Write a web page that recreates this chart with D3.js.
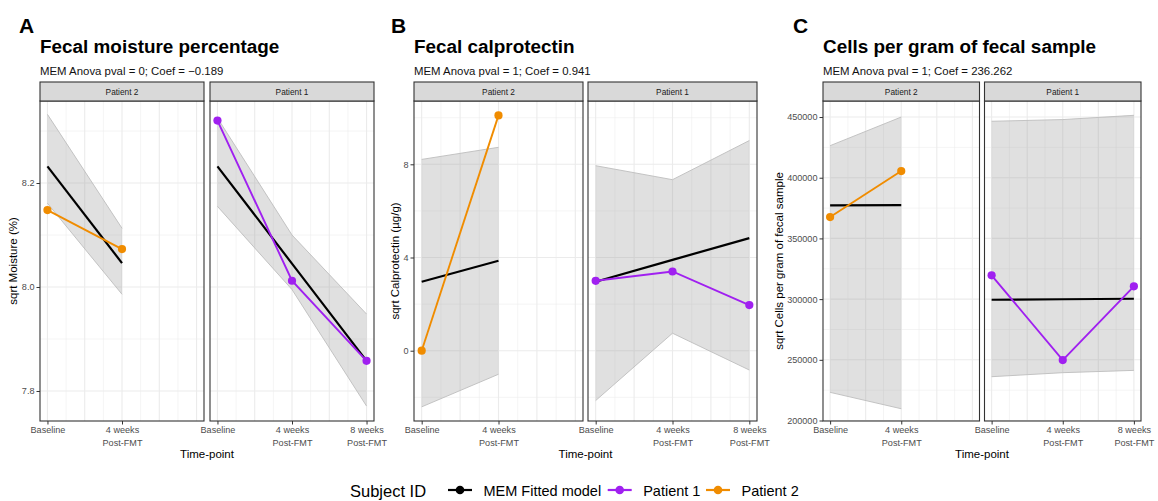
<!DOCTYPE html>
<html>
<head>
<meta charset="utf-8">
<script src="https://cdn.jsdelivr.net/npm/d3@7"></script>
<style>
  body { margin: 0; background: #fff; }
  svg { display: block; font-family: "Liberation Sans", Arial, Helvetica, sans-serif; }
</style>
</head>
<body>
<svg id="fig" width="1158" height="501"></svg>
<script>
// ---- shared categories ----
const timePoints = [1, 2, 3];
const timeLabels = [["Baseline"], ["4 weeks", "Post-FMT"], ["8 weeks", "Post-FMT"]];
const facetOrder = ["Patient 2", "Patient 1"];
const legendLabels = ["MEM Fitted model", "Patient 1", "Patient 2"];

// ---- A: fecal moisture (sqrt %) ----
const moistObsP1 = [8.320, 8.012, 7.858];
const moistObsP2 = [8.148, 8.073];
const moistFitP1 = [8.232, 8.045, 7.858];
const moistFitP2 = [8.232, 8.046];
const moistLoP1  = [8.155, 7.995, 7.771];
const moistHiP1  = [8.325, 8.100, 7.948];
const moistLoP2  = [8.161, 7.986];
const moistHiP2  = [8.332, 8.113];
const moistTicks = [7.8, 8.0, 8.2];
const moistMinor = [7.9, 8.1, 8.3];

// ---- B: fecal calprotectin (sqrt µg/g) ----
const calpObsP1 = [3.00, 3.40, 1.96];
const calpObsP2 = [0.00, 10.10];
const calpFitP1 = [2.96, 3.90, 4.83];
const calpFitP2 = [2.96, 3.86];
const calpLoP1  = [-2.14, 0.75, -0.83];
const calpHiP1  = [7.94, 7.34, 9.02];
const calpLoP2  = [-2.41, -1.01];
const calpHiP2  = [8.21, 8.73];
const calpTicks = [0, 4, 8];
const calpMinor = [-2, 2, 6, 10];

// ---- C: cells per gram of fecal sample ----
const cellObsP1 = [319600, 249800, 310500];
const cellObsP2 = [367600, 405500];
const cellFitP1 = [299500, 299900, 300300];
const cellFitP2 = [377200, 377500];
const cellLoP1  = [236100, 239400, 241300];
const cellHiP1  = [446500, 447900, 451400];
const cellLoP2  = [223200, 209700];
const cellHiP2  = [426400, 450000];
const cellTicks = [200000, 250000, 300000, 350000, 400000, 450000];
const cellMinor = [225000, 275000, 325000, 375000, 425000];

// ---- styling ----
const COL_P1 = "#A020F0";
const COL_P2 = "#F08C00";
const COL_FIT = "#000000";
const GRID = "#EBEBEB";

const svg = d3.select("#fig");

const panels = [
  {
    tag: "A", tagX: 19, left: 40, facetW: 164, gap: 6, yTitleX: 13,
    title: "Fecal moisture percentage",
    subtitle: "MEM Anova pval = 0; Coef = \u22120.189",
    yTitle: "sqrt Moisture (%)",
    yDomain: [7.7423, 8.3577], ticks: moistTicks, minor: moistMinor, fmt: d3.format(".1f"),
    series: {
      "Patient 2": { obs: moistObsP2, fit: moistFitP2, lo: moistLoP2, hi: moistHiP2, color: COL_P2 },
      "Patient 1": { obs: moistObsP1, fit: moistFitP1, lo: moistLoP1, hi: moistHiP1, color: COL_P1 }
    }
  },
  {
    tag: "B", tagX: 391, left: 414, facetW: 169, gap: 5, yTitleX: 395,
    title: "Fecal calprotectin",
    subtitle: "MEM Anova pval = 1; Coef = 0.941",
    yTitle: "sqrt Calprotectin (\u00b5g/g)",
    yDomain: [-3.017, 10.717], ticks: calpTicks, minor: calpMinor, fmt: d3.format("d"),
    series: {
      "Patient 2": { obs: calpObsP2, fit: calpFitP2, lo: calpLoP2, hi: calpHiP2, color: COL_P2 },
      "Patient 1": { obs: calpObsP1, fit: calpFitP1, lo: calpLoP1, hi: calpHiP1, color: COL_P1 }
    }
  },
  {
    tag: "C", tagX: 793, left: 823, facetW: 156.5, gap: 5, yTitleX: 778.5,
    title: "Cells per gram of fecal sample",
    subtitle: "MEM Anova pval = 1; Coef = 236.262",
    yTitle: "sqrt Cells per gram of fecal sample",
    yDomain: [199600, 463200], ticks: cellTicks, minor: cellMinor, fmt: d3.format("d"),
    series: {
      "Patient 2": { obs: cellObsP2, fit: cellFitP2, lo: cellLoP2, hi: cellHiP2, color: COL_P2 },
      "Patient 1": { obs: cellObsP1, fit: cellFitP1, lo: cellLoP1, hi: cellHiP1, color: COL_P1 }
    }
  }
];

const panelTop = 101, panelBottom = 421, stripTop = 82;
const xMajor = [1, 1.5, 2, 2.5, 3];
const xMinor = [1.25, 1.75, 2.25, 2.75];

panels.forEach((p, pi) => {
  const g = svg.append("g");

  // tag letter, title, subtitle
  g.append("text").attr("x", p.tagX).attr("y", 33)
    .attr("font-size", 21).attr("font-weight", "bold").text(p.tag);
  g.append("text").attr("x", p.left).attr("y", 53)
    .attr("font-size", 18.9).attr("font-weight", "bold").text(p.title);
  g.append("text").attr("x", p.left).attr("y", 74.5)
    .attr("font-size", 11.4).attr("fill", "#111").text(p.subtitle);

  const y = d3.scaleLinear().domain(p.yDomain).range([panelBottom, panelTop]);

  facetOrder.forEach((name, fi) => {
    const x0 = p.left + fi * (p.facetW + p.gap);
    const x1 = x0 + p.facetW;
    const x = d3.scaleLinear().domain([0.9, 3.1]).range([x0, x1]);
    const s = p.series[name];
    const clipId = `clip-${pi}-${fi}`;

    svg.append("clipPath").attr("id", clipId)
      .append("rect").attr("x", x0).attr("y", panelTop).attr("width", p.facetW).attr("height", panelBottom - panelTop);

    const fg = g.append("g");
    // grid
    const grid = fg.append("g");
    p.minor.forEach(v => grid.append("line").attr("x1", x0).attr("x2", x1)
      .attr("y1", y(v)).attr("y2", y(v)).attr("stroke", GRID).attr("stroke-width", 0.55));
    xMinor.forEach(v => grid.append("line").attr("x1", x(v)).attr("x2", x(v))
      .attr("y1", panelTop).attr("y2", panelBottom).attr("stroke", GRID).attr("stroke-width", 0.55));
    p.ticks.forEach(v => grid.append("line").attr("x1", x0).attr("x2", x1)
      .attr("y1", y(v)).attr("y2", y(v)).attr("stroke", GRID).attr("stroke-width", 1.1));
    xMajor.forEach(v => grid.append("line").attr("x1", x(v)).attr("x2", x(v))
      .attr("y1", panelTop).attr("y2", panelBottom).attr("stroke", GRID).attr("stroke-width", 1.1));

    const plot = fg.append("g").attr("clip-path", `url(#${clipId})`);
    const idx = d3.range(s.obs.length);

    // confidence ribbon
    const area = d3.area().x(i => x(timePoints[i])).y0(i => y(s.lo[i])).y1(i => y(s.hi[i]));
    plot.append("path").datum(idx).attr("d", area)
      .attr("fill", "#999999").attr("fill-opacity", 0.3);
    const edge = key => d3.line().x(i => x(timePoints[i])).y(i => y(s[key][i]));
    ["lo", "hi"].forEach(k => plot.append("path").datum(idx).attr("d", edge(k))
      .attr("fill", "none").attr("stroke", "#BDBDBD").attr("stroke-width", 0.9));

    // fitted model
    plot.append("path").datum(idx)
      .attr("d", d3.line().x(i => x(timePoints[i])).y(i => y(s.fit[i])))
      .attr("fill", "none").attr("stroke", COL_FIT).attr("stroke-width", 2.2);

    // observed values
    plot.append("path").datum(idx)
      .attr("d", d3.line().x(i => x(timePoints[i])).y(i => y(s.obs[i])))
      .attr("fill", "none").attr("stroke", s.color).attr("stroke-width", 1.9);
    plot.selectAll("circle.pt").data(idx).join("circle").attr("class", "pt")
      .attr("cx", i => x(timePoints[i])).attr("cy", i => y(s.obs[i])).attr("r", 4.1)
      .attr("fill", s.color);

    // panel border
    fg.append("rect").attr("x", x0).attr("y", panelTop).attr("width", p.facetW).attr("height", panelBottom - panelTop)
      .attr("fill", "none").attr("stroke", "#333333").attr("stroke-width", 1.1);

    // strip
    fg.append("rect").attr("x", x0).attr("y", stripTop).attr("width", p.facetW).attr("height", panelTop - stripTop)
      .attr("fill", "#D9D9D9").attr("stroke", "#333333").attr("stroke-width", 1.1);
    fg.append("text").attr("x", (x0 + x1) / 2).attr("y", 94.5).attr("text-anchor", "middle")
      .attr("font-size", 8.3).attr("fill", "#1A1A1A").text(name);

    // x axis: only the time points sampled in this facet
    const xa = fg.append("g").attr("transform", `translate(0,${panelBottom})`)
      .call(d3.axisBottom(x).tickValues(timePoints.slice(0, s.obs.length)).tickSize(3.5).tickFormat(""));
    xa.select(".domain").remove();
    xa.selectAll(".tick line").attr("stroke", "#333").attr("stroke-width", 1);
    xa.selectAll(".tick").each(function (d) {
      const t = d3.select(this).append("text").attr("fill", "#4D4D4D").attr("font-size", 9.1)
        .attr("text-anchor", "middle").attr("font-family", "Liberation Sans, Arial, sans-serif");
      timeLabels[d - 1].forEach((ln, li) => t.append("tspan").attr("x", 0).attr("y", 12.3 + li * 12.2).text(ln));
    });

    // y axis on the first facet only
    if (fi === 0) {
      const ya = fg.append("g").attr("transform", `translate(${x0},0)`)
        .call(d3.axisLeft(y).tickValues(p.ticks).tickSize(3.5).tickPadding(2).tickFormat(p.fmt));
      ya.select(".domain").remove();
      ya.selectAll(".tick line").attr("stroke", "#333").attr("stroke-width", 1);
      ya.selectAll(".tick text").attr("fill", "#4D4D4D").attr("font-size", 9.1)
        .attr("font-family", "Liberation Sans, Arial, sans-serif");
    }
  });

  // axis titles
  const xMid = p.left + p.facetW + p.gap / 2;
  g.append("text").attr("x", xMid).attr("y", 457.5).attr("text-anchor", "middle")
    .attr("font-size", 11.5).text("Time-point");
  g.append("text").attr("transform", `translate(${p.yTitleX + 4},${(panelTop + panelBottom) / 2}) rotate(-90)`)
    .attr("text-anchor", "middle").attr("font-size", 11.5).text(p.yTitle);
});

// legend
const lg = svg.append("g");
lg.append("text").attr("x", 350).attr("y", 496.5).attr("font-size", 16.5).text("Subject ID");
const legendCols = [COL_FIT, COL_P1, COL_P2];
const legendX = [448, 607.7, 706];
legendLabels.forEach((lab, i) => {
  const kx = legendX[i];
  lg.append("line").attr("x1", kx).attr("x2", kx + 24).attr("y1", 490).attr("y2", 490)
    .attr("stroke", legendCols[i]).attr("stroke-width", 2.2);
  lg.append("circle").attr("cx", kx + 12).attr("cy", 490).attr("r", 4.3).attr("fill", legendCols[i]);
  lg.append("text").attr("x", kx + 35.5).attr("y", 495.5).attr("font-size", 14.5).text(lab);
});
</script>
</body>
</html>
